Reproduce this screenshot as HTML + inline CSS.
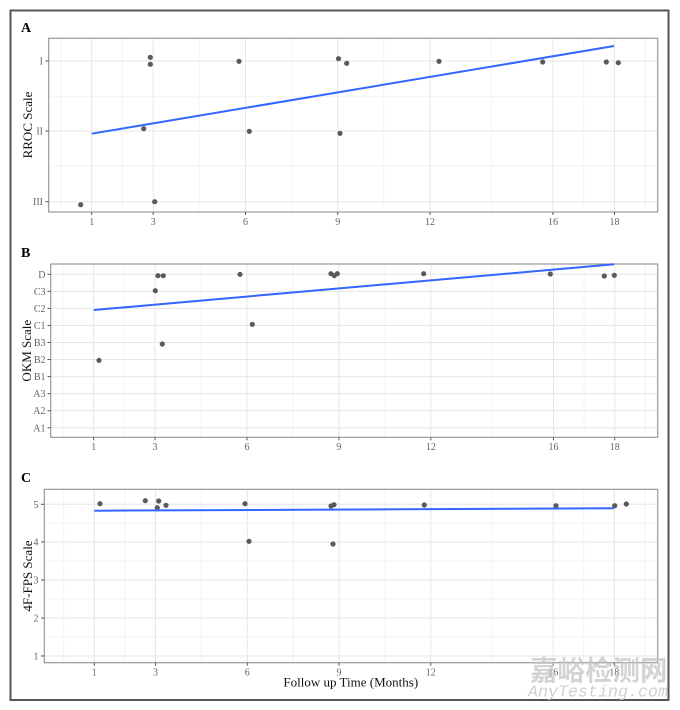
<!DOCTYPE html>
<html><head><meta charset="utf-8"><style>
html,body{margin:0;padding:0;background:#fff;}
svg{display:block;}
text{font-family:"Liberation Serif",serif;}
.tl{font-size:10px;fill:#646464;}
.mj{stroke:#e6e6e6;stroke-width:1;}
.mn{stroke:#f3f3f3;stroke-width:1;}
.tk{stroke:#555;stroke-width:1;}
.pt{fill:#5a5a5a;}
.ln{stroke:#3366ff;stroke-width:2;fill:none;}
.pb{fill:none;stroke:#999;stroke-width:1.2;}
.ttl{font-size:13px;fill:#111;}
.lab{font-size:14px;font-weight:bold;fill:#000;}
</style></head><body>
<svg width="680" height="710" viewBox="0 0 680 710" xmlns="http://www.w3.org/2000/svg">
<rect x="0" y="0" width="680" height="710" fill="#fff"/>
<rect x="10.5" y="10.5" width="658" height="689.5" fill="none" stroke="#555" stroke-width="2"/>

<!-- Panel A -->
<g>
<g class="mn">
<line x1="61" y1="38.3" x2="61" y2="212"/><line x1="122.45" y1="38.3" x2="122.45" y2="212"/><line x1="199.3" y1="38.3" x2="199.3" y2="212"/><line x1="291.6" y1="38.3" x2="291.6" y2="212"/><line x1="383.8" y1="38.3" x2="383.8" y2="212"/><line x1="491.5" y1="38.3" x2="491.5" y2="212"/><line x1="583.7" y1="38.3" x2="583.7" y2="212"/><line x1="645.2" y1="38.3" x2="645.2" y2="212"/>
<line x1="48.7" y1="96.7" x2="657.7" y2="96.7"/><line x1="48.7" y1="166" x2="657.7" y2="166"/>
</g>
<g class="mj">
<line x1="91.7" y1="38.3" x2="91.7" y2="212"/><line x1="153.2" y1="38.3" x2="153.2" y2="212"/><line x1="245.45" y1="38.3" x2="245.45" y2="212"/><line x1="337.7" y1="38.3" x2="337.7" y2="212"/><line x1="429.95" y1="38.3" x2="429.95" y2="212"/><line x1="552.95" y1="38.3" x2="552.95" y2="212"/><line x1="614.45" y1="38.3" x2="614.45" y2="212"/>
<line x1="48.7" y1="61" x2="657.7" y2="61"/><line x1="48.7" y1="131" x2="657.7" y2="131"/><line x1="48.7" y1="201.7" x2="657.7" y2="201.7"/>
</g>
<rect class="pb" x="48.7" y="38.3" width="609" height="173.7"/>
<g class="tk">
<line x1="45.5" y1="61" x2="48.7" y2="61"/><line x1="45.5" y1="131" x2="48.7" y2="131"/><line x1="45.5" y1="201.7" x2="48.7" y2="201.7"/>
<line x1="91.7" y1="212" x2="91.7" y2="215"/><line x1="153.2" y1="212" x2="153.2" y2="215"/><line x1="245.45" y1="212" x2="245.45" y2="215"/><line x1="337.7" y1="212" x2="337.7" y2="215"/><line x1="429.95" y1="212" x2="429.95" y2="215"/><line x1="552.95" y1="212" x2="552.95" y2="215"/><line x1="614.45" y1="212" x2="614.45" y2="215"/>
</g>
<g class="tl" text-anchor="end">
<text x="43" y="64.5">I</text><text x="43" y="134.5">II</text><text x="43" y="205.2">III</text>
</g>
<g class="tl" text-anchor="middle">
<text x="91.7" y="225">1</text><text x="153.2" y="225">3</text><text x="245.45" y="225">6</text><text x="337.7" y="225">9</text><text x="429.95" y="225">12</text><text x="552.95" y="225">16</text><text x="614.45" y="225">18</text>
</g>
<g class="pt">
<circle cx="80.7" cy="204.7" r="2.6"/><circle cx="150.3" cy="57.3" r="2.6"/><circle cx="150.3" cy="64.3" r="2.6"/><circle cx="143.7" cy="128.7" r="2.6"/><circle cx="154.7" cy="201.7" r="2.6"/><circle cx="239" cy="61.3" r="2.6"/><circle cx="249.3" cy="131.3" r="2.6"/><circle cx="338.5" cy="58.7" r="2.6"/><circle cx="340" cy="133.3" r="2.6"/><circle cx="346.7" cy="63.3" r="2.6"/><circle cx="439" cy="61.3" r="2.6"/><circle cx="542.7" cy="62" r="2.6"/><circle cx="606.3" cy="62" r="2.6"/><circle cx="618.3" cy="62.7" r="2.6"/>
</g>
<line class="ln" x1="91.7" y1="133.7" x2="614" y2="46"/>
<text class="lab" x="21" y="32">A</text>
<text class="ttl" text-anchor="middle" transform="translate(32,125) rotate(-90)">RROC Scale</text>
</g>

<!-- Panel B -->
<g>
<g class="mn">
<line x1="63" y1="264" x2="63" y2="437.3"/><line x1="124.35" y1="264" x2="124.35" y2="437.3"/><line x1="200.9" y1="264" x2="200.9" y2="437.3"/><line x1="292.9" y1="264" x2="292.9" y2="437.3"/><line x1="384.9" y1="264" x2="384.9" y2="437.3"/><line x1="492.2" y1="264" x2="492.2" y2="437.3"/><line x1="584.1" y1="264" x2="584.1" y2="437.3"/><line x1="645.4" y1="264" x2="645.4" y2="437.3"/>
</g>
<g class="mj">
<line x1="93.7" y1="264" x2="93.7" y2="437.3"/><line x1="155" y1="264" x2="155" y2="437.3"/><line x1="246.95" y1="264" x2="246.95" y2="437.3"/><line x1="338.9" y1="264" x2="338.9" y2="437.3"/><line x1="430.85" y1="264" x2="430.85" y2="437.3"/><line x1="553.45" y1="264" x2="553.45" y2="437.3"/><line x1="614.75" y1="264" x2="614.75" y2="437.3"/>
<line x1="50.7" y1="274.3" x2="657.7" y2="274.3"/><line x1="50.7" y1="291.35" x2="657.7" y2="291.35"/><line x1="50.7" y1="308.4" x2="657.7" y2="308.4"/><line x1="50.7" y1="325.45" x2="657.7" y2="325.45"/><line x1="50.7" y1="342.5" x2="657.7" y2="342.5"/><line x1="50.7" y1="359.55" x2="657.7" y2="359.55"/><line x1="50.7" y1="376.6" x2="657.7" y2="376.6"/><line x1="50.7" y1="393.65" x2="657.7" y2="393.65"/><line x1="50.7" y1="410.7" x2="657.7" y2="410.7"/><line x1="50.7" y1="427.75" x2="657.7" y2="427.75"/>
</g>
<rect class="pb" x="50.7" y="264" width="607" height="173.3"/>
<g class="tk">
<line x1="47.5" y1="274.3" x2="50.7" y2="274.3"/><line x1="47.5" y1="291.35" x2="50.7" y2="291.35"/><line x1="47.5" y1="308.4" x2="50.7" y2="308.4"/><line x1="47.5" y1="325.45" x2="50.7" y2="325.45"/><line x1="47.5" y1="342.5" x2="50.7" y2="342.5"/><line x1="47.5" y1="359.55" x2="50.7" y2="359.55"/><line x1="47.5" y1="376.6" x2="50.7" y2="376.6"/><line x1="47.5" y1="393.65" x2="50.7" y2="393.65"/><line x1="47.5" y1="410.7" x2="50.7" y2="410.7"/><line x1="47.5" y1="427.75" x2="50.7" y2="427.75"/>
<line x1="93.7" y1="437.3" x2="93.7" y2="440.3"/><line x1="155" y1="437.3" x2="155" y2="440.3"/><line x1="246.95" y1="437.3" x2="246.95" y2="440.3"/><line x1="338.9" y1="437.3" x2="338.9" y2="440.3"/><line x1="430.85" y1="437.3" x2="430.85" y2="440.3"/><line x1="553.45" y1="437.3" x2="553.45" y2="440.3"/><line x1="614.75" y1="437.3" x2="614.75" y2="440.3"/>
</g>
<g class="tl" text-anchor="end">
<text x="45.5" y="277.8">D</text><text x="45.5" y="294.85">C3</text><text x="45.5" y="311.9">C2</text><text x="45.5" y="328.95">C1</text><text x="45.5" y="346">B3</text><text x="45.5" y="363.05">B2</text><text x="45.5" y="380.1">B1</text><text x="45.5" y="397.15">A3</text><text x="45.5" y="414.2">A2</text><text x="45.5" y="431.25">A1</text>
</g>
<g class="tl" text-anchor="middle">
<text x="93.7" y="450">1</text><text x="155" y="450">3</text><text x="246.95" y="450">6</text><text x="338.9" y="450">9</text><text x="430.85" y="450">12</text><text x="553.45" y="450">16</text><text x="614.75" y="450">18</text>
</g>
<g class="pt">
<circle cx="99" cy="360.3" r="2.6"/><circle cx="155.3" cy="290.7" r="2.6"/><circle cx="158" cy="275.7" r="2.6"/><circle cx="163.3" cy="275.7" r="2.6"/><circle cx="162.3" cy="344" r="2.6"/><circle cx="240" cy="274.3" r="2.6"/><circle cx="252.3" cy="324.3" r="2.6"/><circle cx="331" cy="273.7" r="2.6"/><circle cx="334.3" cy="275.7" r="2.6"/><circle cx="337.3" cy="273.7" r="2.6"/><circle cx="423.7" cy="273.7" r="2.6"/><circle cx="550.3" cy="274" r="2.6"/><circle cx="604.3" cy="276" r="2.6"/><circle cx="614.3" cy="275.3" r="2.6"/>
</g>
<line class="ln" x1="93.7" y1="310" x2="614" y2="264.3"/>
<text class="lab" x="21" y="257">B</text>
<text class="ttl" text-anchor="middle" transform="translate(31,350.7) rotate(-90)">OKM Scale</text>
</g>

<!-- Panel C -->
<g>
<g class="mn">
<line x1="63.7" y1="489.3" x2="63.7" y2="662.7"/><line x1="124.9" y1="489.3" x2="124.9" y2="662.7"/><line x1="201.4" y1="489.3" x2="201.4" y2="662.7"/><line x1="293.2" y1="489.3" x2="293.2" y2="662.7"/><line x1="384.9" y1="489.3" x2="384.9" y2="662.7"/><line x1="492" y1="489.3" x2="492" y2="662.7"/><line x1="583.7" y1="489.3" x2="583.7" y2="662.7"/><line x1="645" y1="489.3" x2="645" y2="662.7"/>
<line x1="44.3" y1="523.2" x2="657.7" y2="523.2"/><line x1="44.3" y1="561" x2="657.7" y2="561"/><line x1="44.3" y1="599" x2="657.7" y2="599"/><line x1="44.3" y1="637" x2="657.7" y2="637"/>
</g>
<g class="mj">
<line x1="94.3" y1="489.3" x2="94.3" y2="662.7"/><line x1="155.5" y1="489.3" x2="155.5" y2="662.7"/><line x1="247.3" y1="489.3" x2="247.3" y2="662.7"/><line x1="339" y1="489.3" x2="339" y2="662.7"/><line x1="430.8" y1="489.3" x2="430.8" y2="662.7"/><line x1="553.2" y1="489.3" x2="553.2" y2="662.7"/><line x1="614.3" y1="489.3" x2="614.3" y2="662.7"/>
<line x1="44.3" y1="504.3" x2="657.7" y2="504.3"/><line x1="44.3" y1="542" x2="657.7" y2="542"/><line x1="44.3" y1="580" x2="657.7" y2="580"/><line x1="44.3" y1="618" x2="657.7" y2="618"/><line x1="44.3" y1="656" x2="657.7" y2="656"/>
</g>
<rect class="pb" x="44.3" y="489.3" width="613.4" height="173.4"/>
<g class="tk">
<line x1="41" y1="504.3" x2="44.3" y2="504.3"/><line x1="41" y1="542" x2="44.3" y2="542"/><line x1="41" y1="580" x2="44.3" y2="580"/><line x1="41" y1="618" x2="44.3" y2="618"/><line x1="41" y1="656" x2="44.3" y2="656"/>
<line x1="94.3" y1="662.7" x2="94.3" y2="665.7"/><line x1="155.5" y1="662.7" x2="155.5" y2="665.7"/><line x1="247.3" y1="662.7" x2="247.3" y2="665.7"/><line x1="339" y1="662.7" x2="339" y2="665.7"/><line x1="430.8" y1="662.7" x2="430.8" y2="665.7"/><line x1="553.2" y1="662.7" x2="553.2" y2="665.7"/><line x1="614.3" y1="662.7" x2="614.3" y2="665.7"/>
</g>
<g class="tl" text-anchor="end">
<text x="38.5" y="507.8">5</text><text x="38.5" y="545.5">4</text><text x="38.5" y="583.5">3</text><text x="38.5" y="621.5">2</text><text x="38.5" y="659.5">1</text>
</g>
<g class="tl" text-anchor="middle">
<text x="94.3" y="675.5">1</text><text x="155.5" y="675.5">3</text><text x="247.3" y="675.5">6</text><text x="339" y="675.5">9</text><text x="430.8" y="675.5">12</text><text x="553.2" y="675.5">16</text><text x="614.3" y="675.5">18</text>
</g>
<g class="pt">
<circle cx="100" cy="503.7" r="2.6"/><circle cx="145.3" cy="500.7" r="2.6"/><circle cx="157.3" cy="507.7" r="2.6"/><circle cx="158.7" cy="501" r="2.6"/><circle cx="166" cy="505.3" r="2.6"/><circle cx="245" cy="503.7" r="2.6"/><circle cx="249" cy="541.3" r="2.6"/><circle cx="331" cy="506" r="2.6"/><circle cx="334" cy="504.7" r="2.6"/><circle cx="333" cy="544" r="2.6"/><circle cx="424.3" cy="505" r="2.6"/><circle cx="556" cy="505.7" r="2.6"/><circle cx="614.7" cy="505.7" r="2.6"/><circle cx="626.3" cy="504" r="2.6"/>
</g>
<line class="ln" x1="94.3" y1="510.7" x2="614" y2="508.3"/>
<text class="lab" x="21" y="482">C</text>
<text class="ttl" text-anchor="middle" transform="translate(32,576) rotate(-90)">4F-FPS Scale</text>
<text class="ttl" text-anchor="middle" x="350.8" y="686.5">Follow up Time (Months)</text>
</g>

<!-- watermark -->
<text x="530" y="680" font-size="27.5" fill="#c4c4c4" fill-opacity="0.75" style="font-family:'Liberation Sans','Noto Sans CJK SC',sans-serif;font-weight:bold;">嘉峪检测网</text>
<text x="528" y="696.5" font-size="16.5" fill="#c8c8c8" fill-opacity="0.85" font-style="italic" textLength="140" lengthAdjust="spacingAndGlyphs" style="font-family:'Liberation Mono',monospace;">AnyTesting.com</text>
</svg>
</body></html>
